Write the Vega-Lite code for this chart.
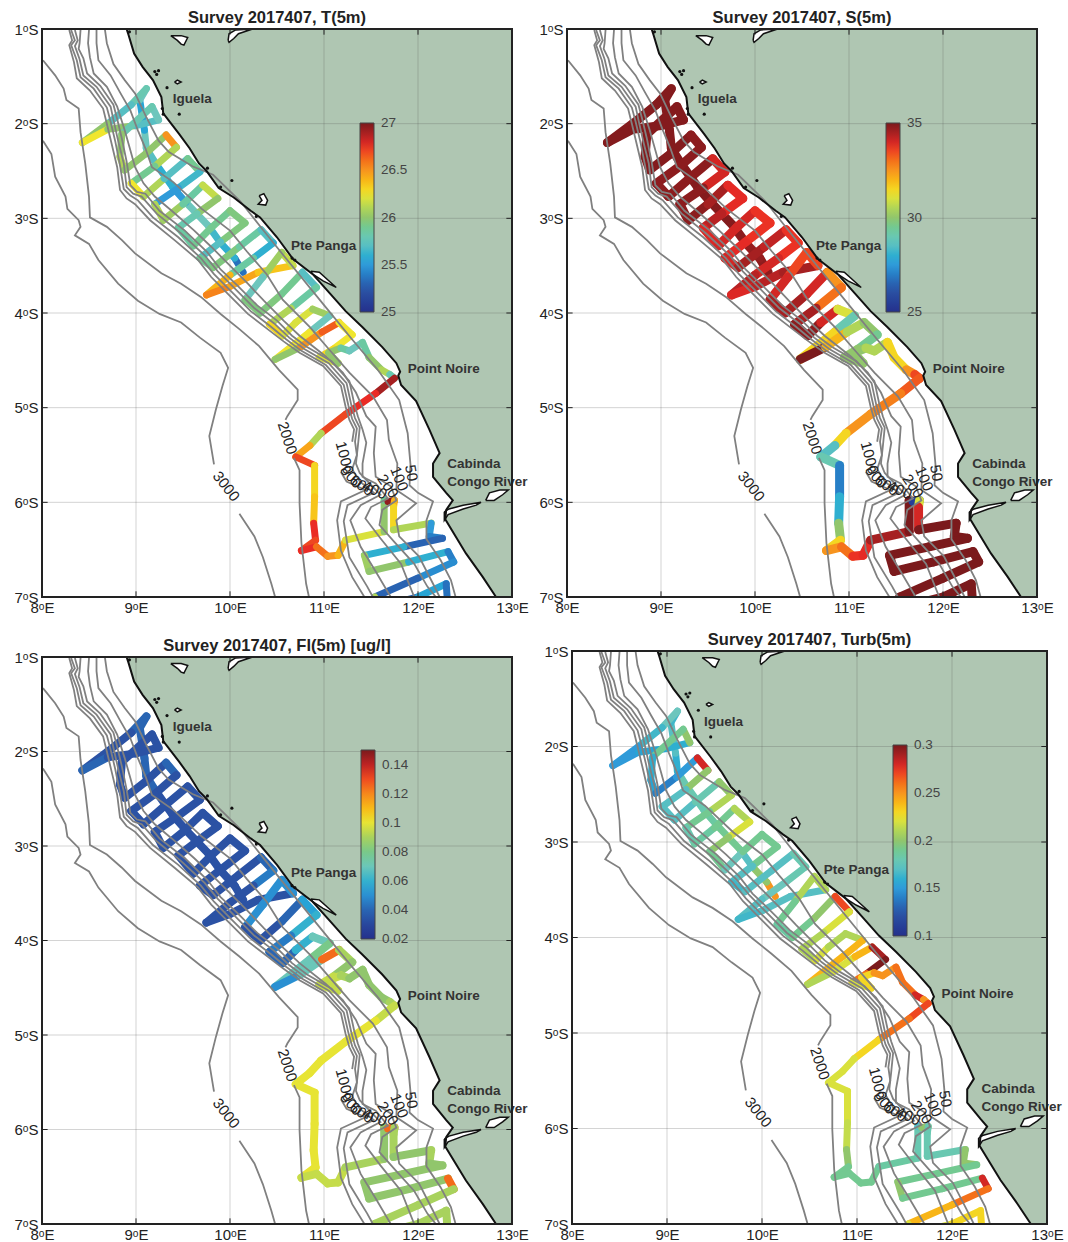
{"$schema":"https://vega.github.io/schema/vega-lite/v6.json","background":"white","padding":{"left":13,"top":9,"right":0,"bottom":0},"config":{"font":"Liberation Sans","title":{"fontSize":16.5,"fontWeight":"bold","color":"#222","offset":-4,"anchor":"middle"},"view":{"stroke":null},"concat":{"spacing":55}},
"datasets":{
"grid":[{"lon":9,"lat":-7,"lon2":9,"lat2":-1},{"lon":10,"lat":-7,"lon2":10,"lat2":-1},{"lon":11,"lat":-7,"lon2":11,"lat2":-1},{"lon":12,"lat":-7,"lon2":12,"lat2":-1},{"lon":8,"lat":-2,"lon2":13,"lat2":-2},{"lon":8,"lat":-3,"lon2":13,"lat2":-3},{"lon":8,"lat":-4,"lon2":13,"lat2":-4},{"lon":8,"lat":-5,"lon2":13,"lat2":-5},{"lon":8,"lat":-6,"lon2":13,"lat2":-6}],
"ticks":[{"lon":8,"lat":-2,"lon2":8.06,"lat2":-2},{"lon":8,"lat":-3,"lon2":8.06,"lat2":-3},{"lon":8,"lat":-4,"lon2":8.06,"lat2":-4},{"lon":8,"lat":-5,"lon2":8.06,"lat2":-5},{"lon":8,"lat":-6,"lon2":8.06,"lat2":-6},{"lon":12.94,"lat":-2,"lon2":13,"lat2":-2},{"lon":12.94,"lat":-3,"lon2":13,"lat2":-3},{"lon":12.94,"lat":-4,"lon2":13,"lat2":-4},{"lon":12.94,"lat":-5,"lon2":13,"lat2":-5},{"lon":12.94,"lat":-6,"lon2":13,"lat2":-6},{"lon":9,"lat":-7,"lon2":9,"lat2":-6.94},{"lon":10,"lat":-7,"lon2":10,"lat2":-6.94},{"lon":11,"lat":-7,"lon2":11,"lat2":-6.94},{"lon":12,"lat":-7,"lon2":12,"lat2":-6.94},{"lon":9,"lat":-1.06,"lon2":9,"lat2":-1},{"lon":10,"lat":-1.06,"lon2":10,"lat2":-1},{"lon":11,"lat":-1.06,"lon2":11,"lat2":-1},{"lon":12,"lat":-1.06,"lon2":12,"lat2":-1}],
"frame":[{"lon":8,"lat":-7,"lon2":13,"lat2":-1}],
"coast":[{"lon":8.9,"lat":-1,"e":13},{"lon":8.92,"lat":-1.06,"e":13},{"lon":8.98,"lat":-1.26,"e":13},{"lon":9.07,"lat":-1.4,"e":13},{"lon":9.18,"lat":-1.54,"e":13},{"lon":9.27,"lat":-1.72,"e":13},{"lon":9.29,"lat":-1.89,"e":13},{"lon":9.46,"lat":-2.11,"e":13},{"lon":9.57,"lat":-2.26,"e":13},{"lon":9.67,"lat":-2.42,"e":13},{"lon":9.75,"lat":-2.5,"e":13},{"lon":9.88,"lat":-2.68,"e":13},{"lon":10.04,"lat":-2.78,"e":13},{"lon":10.22,"lat":-2.92,"e":13},{"lon":10.32,"lat":-2.99,"e":13},{"lon":10.5,"lat":-3.2,"e":13},{"lon":10.67,"lat":-3.43,"e":13},{"lon":10.88,"lat":-3.59,"e":13},{"lon":11.06,"lat":-3.79,"e":13},{"lon":11.23,"lat":-3.98,"e":13},{"lon":11.41,"lat":-4.15,"e":13},{"lon":11.62,"lat":-4.36,"e":13},{"lon":11.77,"lat":-4.53,"e":13},{"lon":11.81,"lat":-4.62,"e":13},{"lon":11.79,"lat":-4.66,"e":13},{"lon":11.82,"lat":-4.76,"e":13},{"lon":11.98,"lat":-4.93,"e":13},{"lon":12.12,"lat":-5.23,"e":13},{"lon":12.23,"lat":-5.48,"e":13},{"lon":12.16,"lat":-5.59,"e":13},{"lon":12.16,"lat":-5.73,"e":13},{"lon":12.3,"lat":-5.9,"e":13},{"lon":12.37,"lat":-5.98,"e":13},{"lon":12.3,"lat":-6.08,"e":13},{"lon":12.29,"lat":-6.18,"e":13},{"lon":12.51,"lat":-6.54,"e":13},{"lon":12.69,"lat":-6.79,"e":13},{"lon":12.83,"lat":-7,"e":13}],
"lakes":[{"id":"a","lon":9.37,"lat":-1.07},{"id":"a","lon":9.48,"lat":-1.07},{"id":"a","lon":9.55,"lat":-1.09},{"id":"a","lon":9.51,"lat":-1.17},{"id":"a","lon":9.48,"lat":-1.16},{"id":"a","lon":9.44,"lat":-1.12},{"id":"a","lon":9.37,"lat":-1.07},
{"id":"b","lon":9.98,"lat":-1.12},{"id":"b","lon":9.99,"lat":-1.05},{"id":"b","lon":10.06,"lat":-1.01},{"id":"b","lon":10.24,"lat":-1},{"id":"b","lon":10.09,"lat":-1.05},{"id":"b","lon":10.04,"lat":-1.1},{"id":"b","lon":9.99,"lat":-1.14},{"id":"b","lon":9.98,"lat":-1.12},
{"id":"c","lon":9.41,"lat":-1.56},{"id":"c","lon":9.44,"lat":-1.54},{"id":"c","lon":9.48,"lat":-1.56},{"id":"c","lon":9.44,"lat":-1.58},{"id":"c","lon":9.41,"lat":-1.56},
{"id":"d","lon":10.31,"lat":-2.76},{"id":"d","lon":10.36,"lat":-2.74},{"id":"d","lon":10.4,"lat":-2.81},{"id":"d","lon":10.38,"lat":-2.86},{"id":"d","lon":10.3,"lat":-2.85},{"id":"d","lon":10.34,"lat":-2.81},{"id":"d","lon":10.31,"lat":-2.76},
{"id":"e","lon":10.86,"lat":-3.56},{"id":"e","lon":10.95,"lat":-3.57},{"id":"e","lon":11.13,"lat":-3.73},{"id":"e","lon":10.99,"lat":-3.66},{"id":"e","lon":10.88,"lat":-3.59},{"id":"e","lon":10.86,"lat":-3.56},
{"id":"f","lon":12.28,"lat":-6.1},{"id":"f","lon":12.33,"lat":-6.07},{"id":"f","lon":12.48,"lat":-6.03},{"id":"f","lon":12.67,"lat":-6},{"id":"f","lon":12.62,"lat":-6.03},{"id":"f","lon":12.48,"lat":-6.07},{"id":"f","lon":12.32,"lat":-6.13},{"id":"f","lon":12.28,"lat":-6.19},{"id":"f","lon":12.28,"lat":-6.1},
{"id":"g","lon":12.72,"lat":-5.98},{"id":"g","lon":12.76,"lat":-5.9},{"id":"g","lon":12.87,"lat":-5.87},{"id":"g","lon":12.96,"lat":-5.87},{"id":"g","lon":12.9,"lat":-5.92},{"id":"g","lon":12.81,"lat":-5.98},{"id":"g","lon":12.72,"lat":-5.98}],
"specks":[{"lon":9.2,"lat":-1.45},{"lon":9.22,"lat":-1.48},{"lon":9.24,"lat":-1.44},{"lon":9.33,"lat":-1.62},{"lon":9.46,"lat":-1.9},{"lon":9.28,"lat":-1.84},{"lon":9.29,"lat":-1.9},{"lon":9.76,"lat":-2.47},{"lon":9.9,"lat":-2.67},{"lon":10.02,"lat":-2.6},{"lon":10.66,"lat":-3.42},{"lon":10.69,"lat":-3.44},{"lon":10.28,"lat":-2.98},{"lon":8.93,"lat":-1.03}],
"iso":[
{"id":"3000a","lon":8.01,"lat":-2.18},{"id":"3000a","lon":8.1,"lat":-2.32},{"id":"3000a","lon":8.14,"lat":-2.56},{"id":"3000a","lon":8.25,"lat":-2.77},{"id":"3000a","lon":8.27,"lat":-2.9},{"id":"3000a","lon":8.39,"lat":-3.02},{"id":"3000a","lon":8.41,"lat":-3.09},{"id":"3000a","lon":8.35,"lat":-3.18},{"id":"3000a","lon":8.5,"lat":-3.27},{"id":"3000a","lon":8.6,"lat":-3.44},{"id":"3000a","lon":8.81,"lat":-3.69},{"id":"3000a","lon":9.02,"lat":-3.87},{"id":"3000a","lon":9.25,"lat":-4.01},{"id":"3000a","lon":9.48,"lat":-4.1},{"id":"3000a","lon":9.68,"lat":-4.26},{"id":"3000a","lon":9.9,"lat":-4.42},{"id":"3000a","lon":9.98,"lat":-4.58},{"id":"3000a","lon":9.92,"lat":-4.77},{"id":"3000a","lon":9.85,"lat":-5.02},{"id":"3000a","lon":9.78,"lat":-5.3},{"id":"3000a","lon":9.83,"lat":-5.6},
{"id":"3000b","lon":10.1,"lat":-6.12},{"id":"3000b","lon":10.26,"lat":-6.36},{"id":"3000b","lon":10.35,"lat":-6.58},{"id":"3000b","lon":10.44,"lat":-6.86},{"id":"3000b","lon":10.48,"lat":-7},
{"id":"2000a","lon":8.01,"lat":-1.33},{"id":"2000a","lon":8.14,"lat":-1.49},{"id":"2000a","lon":8.23,"lat":-1.63},{"id":"2000a","lon":8.26,"lat":-1.75},{"id":"2000a","lon":8.39,"lat":-1.84},{"id":"2000a","lon":8.41,"lat":-2.09},{"id":"2000a","lon":8.46,"lat":-2.42},{"id":"2000a","lon":8.5,"lat":-2.77},{"id":"2000a","lon":8.51,"lat":-2.99},{"id":"2000a","lon":8.69,"lat":-3.09},{"id":"2000a","lon":8.85,"lat":-3.23},{"id":"2000a","lon":8.99,"lat":-3.37},{"id":"2000a","lon":9.27,"lat":-3.58},{"id":"2000a","lon":9.48,"lat":-3.69},{"id":"2000a","lon":9.69,"lat":-3.83},{"id":"2000a","lon":9.9,"lat":-4.01},{"id":"2000a","lon":10.1,"lat":-4.17},{"id":"2000a","lon":10.31,"lat":-4.35},{"id":"2000a","lon":10.52,"lat":-4.6},{"id":"2000a","lon":10.72,"lat":-4.81},{"id":"2000a","lon":10.72,"lat":-4.92},{"id":"2000a","lon":10.61,"lat":-5.09},{"id":"2000a","lon":10.59,"lat":-5.13},
{"id":"2000b","lon":10.68,"lat":-5.53},{"id":"2000b","lon":10.74,"lat":-5.66},{"id":"2000b","lon":10.74,"lat":-6.01},{"id":"2000b","lon":10.76,"lat":-6.43},{"id":"2000b","lon":10.81,"lat":-6.86},{"id":"2000b","lon":10.84,"lat":-7},
{"id":"1000a","lon":8.29,"lat":-1.01},{"id":"1000a","lon":8.32,"lat":-1.12},{"id":"1000a","lon":8.29,"lat":-1.17},{"id":"1000a","lon":8.34,"lat":-1.35},{"id":"1000a","lon":8.37,"lat":-1.52},{"id":"1000a","lon":8.51,"lat":-1.65},{"id":"1000a","lon":8.65,"lat":-1.84},{"id":"1000a","lon":8.69,"lat":-2},{"id":"1000a","lon":8.74,"lat":-2.21},{"id":"1000a","lon":8.8,"lat":-2.46},{"id":"1000a","lon":8.83,"lat":-2.7},{"id":"1000a","lon":8.9,"lat":-2.79},{"id":"1000a","lon":8.99,"lat":-2.85},{"id":"1000a","lon":9.15,"lat":-3.02},{"id":"1000a","lon":9.41,"lat":-3.23},{"id":"1000a","lon":9.66,"lat":-3.44},{"id":"1000a","lon":9.8,"lat":-3.62},{"id":"1000a","lon":9.98,"lat":-3.8},{"id":"1000a","lon":10.19,"lat":-4.01},{"id":"1000a","lon":10.4,"lat":-4.17},{"id":"1000a","lon":10.57,"lat":-4.3},{"id":"1000a","lon":10.74,"lat":-4.42},{"id":"1000a","lon":10.99,"lat":-4.56},{"id":"1000a","lon":11.18,"lat":-4.77},{"id":"1000a","lon":11.23,"lat":-4.99},{"id":"1000a","lon":11.27,"lat":-5.13},{"id":"1000a","lon":11.32,"lat":-5.23},{"id":"1000a","lon":11.3,"lat":-5.36},
{"id":"1000b","lon":11.18,"lat":-5.68},{"id":"1000b","lon":11.24,"lat":-5.78},{"id":"1000b","lon":11.44,"lat":-5.87},{"id":"1000b","lon":11.18,"lat":-5.99},{"id":"1000b","lon":11.14,"lat":-6.19},{"id":"1000b","lon":11.18,"lat":-6.51},{"id":"1000b","lon":11.3,"lat":-6.79},{"id":"1000b","lon":11.43,"lat":-7},
{"id":"800","lon":8.31,"lat":-1.01},{"id":"800","lon":8.35,"lat":-1.12},{"id":"800","lon":8.31,"lat":-1.17},{"id":"800","lon":8.37,"lat":-1.33},{"id":"800","lon":8.41,"lat":-1.51},{"id":"800","lon":8.55,"lat":-1.63},{"id":"800","lon":8.69,"lat":-1.83},{"id":"800","lon":8.73,"lat":-1.98},{"id":"800","lon":8.78,"lat":-2.19},{"id":"800","lon":8.83,"lat":-2.44},{"id":"800","lon":8.87,"lat":-2.69},{"id":"800","lon":8.94,"lat":-2.76},{"id":"800","lon":9.02,"lat":-2.81},{"id":"800","lon":9.18,"lat":-2.99},{"id":"800","lon":9.45,"lat":-3.2},{"id":"800","lon":9.69,"lat":-3.42},{"id":"800","lon":9.83,"lat":-3.59},{"id":"800","lon":10.01,"lat":-3.77},{"id":"800","lon":10.22,"lat":-3.98},{"id":"800","lon":10.43,"lat":-4.14},{"id":"800","lon":10.6,"lat":-4.28},{"id":"800","lon":10.76,"lat":-4.4},{"id":"800","lon":11.02,"lat":-4.55},{"id":"800","lon":11.21,"lat":-4.76},{"id":"800","lon":11.26,"lat":-4.98},{"id":"800","lon":11.3,"lat":-5.12},{"id":"800","lon":11.35,"lat":-5.22},{"id":"800","lon":11.33,"lat":-5.36},{"id":"800","lon":11.35,"lat":-5.5},{"id":"800","lon":11.3,"lat":-5.65},{"id":"800","lon":11.38,"lat":-5.78},{"id":"800","lon":11.53,"lat":-5.9},{"id":"800","lon":11.25,"lat":-6.03},{"id":"800","lon":11.21,"lat":-6.2},{"id":"800","lon":11.27,"lat":-6.58},{"id":"800","lon":11.46,"lat":-6.89},{"id":"800","lon":11.52,"lat":-7},
{"id":"600","lon":8.35,"lat":-1.01},{"id":"600","lon":8.38,"lat":-1.12},{"id":"600","lon":8.35,"lat":-1.18},{"id":"600","lon":8.4,"lat":-1.32},{"id":"600","lon":8.44,"lat":-1.49},{"id":"600","lon":8.58,"lat":-1.61},{"id":"600","lon":8.73,"lat":-1.82},{"id":"600","lon":8.76,"lat":-1.96},{"id":"600","lon":8.81,"lat":-2.18},{"id":"600","lon":8.87,"lat":-2.42},{"id":"600","lon":8.9,"lat":-2.67},{"id":"600","lon":8.97,"lat":-2.74},{"id":"600","lon":9.06,"lat":-2.77},{"id":"600","lon":9.22,"lat":-2.95},{"id":"600","lon":9.48,"lat":-3.16},{"id":"600","lon":9.73,"lat":-3.39},{"id":"600","lon":9.87,"lat":-3.56},{"id":"600","lon":10.05,"lat":-3.74},{"id":"600","lon":10.26,"lat":-3.95},{"id":"600","lon":10.47,"lat":-4.11},{"id":"600","lon":10.63,"lat":-4.26},{"id":"600","lon":10.79,"lat":-4.38},{"id":"600","lon":11.05,"lat":-4.53},{"id":"600","lon":11.24,"lat":-4.74},{"id":"600","lon":11.29,"lat":-4.97},{"id":"600","lon":11.33,"lat":-5.11},{"id":"600","lon":11.38,"lat":-5.21},{"id":"600","lon":11.36,"lat":-5.41},{"id":"600","lon":11.34,"lat":-5.59},{"id":"600","lon":11.38,"lat":-5.69},{"id":"600","lon":11.6,"lat":-5.92},{"id":"600","lon":11.39,"lat":-6.03},{"id":"600","lon":11.28,"lat":-6.19},{"id":"600","lon":11.39,"lat":-6.47},{"id":"600","lon":11.55,"lat":-6.73},{"id":"600","lon":11.71,"lat":-7},
{"id":"400","lon":8.41,"lat":-1.01},{"id":"400","lon":8.4,"lat":-1.15},{"id":"400","lon":8.39,"lat":-1.21},{"id":"400","lon":8.44,"lat":-1.31},{"id":"400","lon":8.48,"lat":-1.47},{"id":"400","lon":8.62,"lat":-1.6},{"id":"400","lon":8.76,"lat":-1.8},{"id":"400","lon":8.8,"lat":-1.95},{"id":"400","lon":8.85,"lat":-2.16},{"id":"400","lon":8.9,"lat":-2.4},{"id":"400","lon":8.94,"lat":-2.65},{"id":"400","lon":9.01,"lat":-2.72},{"id":"400","lon":9.1,"lat":-2.74},{"id":"400","lon":9.25,"lat":-2.92},{"id":"400","lon":9.52,"lat":-3.13},{"id":"400","lon":9.76,"lat":-3.36},{"id":"400","lon":9.9,"lat":-3.54},{"id":"400","lon":10.08,"lat":-3.71},{"id":"400","lon":10.29,"lat":-3.92},{"id":"400","lon":10.5,"lat":-4.08},{"id":"400","lon":10.66,"lat":-4.24},{"id":"400","lon":10.82,"lat":-4.36},{"id":"400","lon":11.08,"lat":-4.51},{"id":"400","lon":11.27,"lat":-4.72},{"id":"400","lon":11.32,"lat":-4.95},{"id":"400","lon":11.36,"lat":-5.09},{"id":"400","lon":11.41,"lat":-5.23},{"id":"400","lon":11.45,"lat":-5.37},{"id":"400","lon":11.41,"lat":-5.59},{"id":"400","lon":11.41,"lat":-5.73},{"id":"400","lon":11.55,"lat":-5.8},{"id":"400","lon":11.68,"lat":-5.96},{"id":"400","lon":11.5,"lat":-6.05},{"id":"400","lon":11.44,"lat":-6.17},{"id":"400","lon":11.6,"lat":-6.38},{"id":"400","lon":11.82,"lat":-6.65},{"id":"400","lon":11.96,"lat":-7},
{"id":"200","lon":8.5,"lat":-1.01},{"id":"200","lon":8.49,"lat":-1.15},{"id":"200","lon":8.51,"lat":-1.3},{"id":"200","lon":8.55,"lat":-1.47},{"id":"200","lon":8.69,"lat":-1.61},{"id":"200","lon":8.8,"lat":-1.82},{"id":"200","lon":8.88,"lat":-2.07},{"id":"200","lon":8.94,"lat":-2.28},{"id":"200","lon":8.99,"lat":-2.46},{"id":"200","lon":9.08,"lat":-2.63},{"id":"200","lon":9.2,"lat":-2.77},{"id":"200","lon":9.38,"lat":-2.92},{"id":"200","lon":9.62,"lat":-3.13},{"id":"200","lon":9.8,"lat":-3.3},{"id":"200","lon":10.01,"lat":-3.51},{"id":"200","lon":10.19,"lat":-3.69},{"id":"200","lon":10.36,"lat":-3.87},{"id":"200","lon":10.57,"lat":-4.08},{"id":"200","lon":10.74,"lat":-4.24},{"id":"200","lon":11.02,"lat":-4.46},{"id":"200","lon":11.2,"lat":-4.63},{"id":"200","lon":11.34,"lat":-4.84},{"id":"200","lon":11.45,"lat":-5.09},{"id":"200","lon":11.55,"lat":-5.2},{"id":"200","lon":11.53,"lat":-5.48},{"id":"200","lon":11.55,"lat":-5.73},{"id":"200","lon":11.71,"lat":-5.83},{"id":"200","lon":11.77,"lat":-5.98},{"id":"200","lon":11.62,"lat":-6.08},{"id":"200","lon":11.59,"lat":-6.24},{"id":"200","lon":11.75,"lat":-6.42},{"id":"200","lon":11.96,"lat":-6.65},{"id":"200","lon":12.1,"lat":-6.89},{"id":"200","lon":12.19,"lat":-7},
{"id":"100","lon":8.58,"lat":-1.01},{"id":"100","lon":8.58,"lat":-1.15},{"id":"100","lon":8.6,"lat":-1.33},{"id":"100","lon":8.73,"lat":-1.49},{"id":"100","lon":8.83,"lat":-1.67},{"id":"100","lon":8.94,"lat":-1.86},{"id":"100","lon":9.02,"lat":-2.07},{"id":"100","lon":9.1,"lat":-2.26},{"id":"100","lon":9.17,"lat":-2.46},{"id":"100","lon":9.4,"lat":-2.62},{"id":"100","lon":9.7,"lat":-2.9},{"id":"100","lon":10,"lat":-3.13},{"id":"100","lon":10.18,"lat":-3.35},{"id":"100","lon":10.39,"lat":-3.59},{"id":"100","lon":10.56,"lat":-3.86},{"id":"100","lon":10.85,"lat":-4.15},{"id":"100","lon":11.05,"lat":-4.38},{"id":"100","lon":11.27,"lat":-4.63},{"id":"100","lon":11.52,"lat":-4.88},{"id":"100","lon":11.67,"lat":-5.13},{"id":"100","lon":11.69,"lat":-5.34},{"id":"100","lon":11.78,"lat":-5.59},{"id":"100","lon":11.77,"lat":-5.87},{"id":"100","lon":11.98,"lat":-6.01},{"id":"100","lon":11.77,"lat":-6.19},{"id":"100","lon":11.8,"lat":-6.36},{"id":"100","lon":12.01,"lat":-6.57},{"id":"100","lon":12.16,"lat":-6.86},{"id":"100","lon":12.23,"lat":-7},
{"id":"50","lon":8.67,"lat":-1.01},{"id":"50","lon":8.69,"lat":-1.15},{"id":"50","lon":8.76,"lat":-1.37},{"id":"50","lon":8.88,"lat":-1.54},{"id":"50","lon":8.99,"lat":-1.68},{"id":"50","lon":9.11,"lat":-1.93},{"id":"50","lon":9.24,"lat":-2.18},{"id":"50","lon":9.35,"lat":-2.3},{"id":"50","lon":9.6,"lat":-2.45},{"id":"50","lon":9.82,"lat":-2.54},{"id":"50","lon":10.11,"lat":-2.82},{"id":"50","lon":10.35,"lat":-3.12},{"id":"50","lon":10.56,"lat":-3.38},{"id":"50","lon":11.02,"lat":-3.94},{"id":"50","lon":11.3,"lat":-4.28},{"id":"50","lon":11.58,"lat":-4.61},{"id":"50","lon":11.8,"lat":-4.92},{"id":"50","lon":11.89,"lat":-5.27},{"id":"50","lon":11.92,"lat":-5.6},{"id":"50","lon":11.91,"lat":-5.82},{"id":"50","lon":12,"lat":-5.9},{"id":"50","lon":12.16,"lat":-5.99},{"id":"50","lon":12.09,"lat":-6.19},{"id":"50","lon":12.09,"lat":-6.39},{"id":"50","lon":12.24,"lat":-6.61},{"id":"50","lon":12.35,"lat":-6.82},{"id":"50","lon":12.4,"lat":-7}],
"isolabels":[{"t":"3000","lon":9.96,"lat":-5.83,"a":52},{"t":"2000","lon":10.61,"lat":-5.32,"a":72},{"t":"1000","lon":11.22,"lat":-5.53,"a":75},{"t":"800","lon":11.29,"lat":-5.73,"a":48},{"t":"600","lon":11.4,"lat":-5.82,"a":35},{"t":"400","lon":11.54,"lat":-5.87,"a":25},{"t":"200","lon":11.68,"lat":-5.83,"a":55},{"t":"100","lon":11.8,"lat":-5.75,"a":68},{"t":"50","lon":11.93,"lat":-5.69,"a":80}],
"places":[{"t":"Iguela","lon":9.39,"lat":-1.74},{"t":"Pte Panga","lon":10.65,"lat":-3.29},{"t":"Point Noire","lon":11.89,"lat":-4.59},{"t":"Cabinda","lon":12.31,"lat":-5.59},{"t":"Congo River","lon":12.31,"lat":-5.78}],
"track":[
{"lon":10.14,"lat":-3.57,"T":25.35,"S":34.8,"F":0.035,"B":0.25},{"lon":10.05,"lat":-3.42,"T":25.6,"S":34.7,"F":0.035,"B":0.2},{"lon":9.9,"lat":-3.26,"T":25.65,"S":34.8,"F":0.035,"B":0.17},{"lon":9.77,"lat":-3.08,"T":25.75,"S":34.9,"F":0.035,"B":0.19},{"lon":9.53,"lat":-2.83,"T":25.5,"S":34.9,"F":0.035,"B":0.185},{"lon":9.39,"lat":-2.67,"T":25.6,"S":34.9,"F":0.035,"B":0.18},{"lon":9.21,"lat":-2.42,"T":25.7,"S":34.9,"F":0.04,"B":0.18},{"lon":9.11,"lat":-2.26,"T":25.75,"S":34.9,"F":0.04,"B":0.16},{"lon":9.09,"lat":-2.07,"T":25.55,"S":34.9,"F":0.04,"B":0.17},{"lon":9.04,"lat":-1.75,"T":25.75,"S":34.9,"F":0.04,"B":0.165},{"lon":9.11,"lat":-1.63,"T":25.8,"S":34.9,"F":0.04,"B":0.175},{"lon":8.95,"lat":-1.8,"T":25.7,"S":34.9,"F":0.035,"B":0.165},{"lon":8.7,"lat":-2,"T":26,"S":34.9,"F":0.035,"B":0.15},{"lon":8.43,"lat":-2.2,"T":26.25,"S":34.9,"F":0.04,"B":0.15},{"lon":8.7,"lat":-2.06,"T":26,"S":34.9,"F":0.035,"B":0.155},{"lon":9,"lat":-2.02,"T":25.7,"S":34.9,"F":0.035,"B":0.16},{"lon":9.24,"lat":-1.96,"T":25.75,"S":34.9,"F":0.035,"B":0.2},{"lon":9.17,"lat":-1.82,"T":25.8,"S":34.9,"F":0.035,"B":0.19},{"lon":8.85,"lat":-2.11,"T":26,"S":34.9,"F":0.035,"B":0.16},{"lon":8.83,"lat":-2.35,"T":26.1,"S":34.9,"F":0.035,"B":0.155},{"lon":8.88,"lat":-2.49,"T":26,"S":34.9,"F":0.035,"B":0.14},{"lon":9.1,"lat":-2.32,"T":26,"S":34.9,"F":0.035,"B":0.15},{"lon":9.32,"lat":-2.12,"T":26.5,"S":34.8,"F":0.04,"B":0.28},{"lon":9.43,"lat":-2.25,"T":26.1,"S":34.8,"F":0.035,"B":0.2},{"lon":9.2,"lat":-2.45,"T":25.9,"S":34.8,"F":0.035,"B":0.17},{"lon":8.95,"lat":-2.63,"T":26.25,"S":34.8,"F":0.035,"B":0.17},{"lon":9.08,"lat":-2.77,"T":26.1,"S":34.8,"F":0.035,"B":0.17},{"lon":9.3,"lat":-2.58,"T":25.7,"S":34.8,"F":0.035,"B":0.18},{"lon":9.55,"lat":-2.37,"T":25.9,"S":34,"F":0.035,"B":0.2},{"lon":9.68,"lat":-2.51,"T":25.65,"S":34,"F":0.035,"B":0.21},{"lon":9.45,"lat":-2.68,"T":25.5,"S":34.8,"F":0.035,"B":0.19},{"lon":9.2,"lat":-2.85,"T":26.1,"S":34.8,"F":0.035,"B":0.18},{"lon":9.29,"lat":-3.02,"T":26.05,"S":34.8,"F":0.035,"B":0.185},{"lon":9.5,"lat":-2.85,"T":25.85,"S":34.5,"F":0.035,"B":0.19},{"lon":9.71,"lat":-2.65,"T":26.15,"S":33.8,"F":0.035,"B":0.21},{"lon":9.87,"lat":-2.79,"T":26,"S":33.8,"F":0.035,"B":0.22},{"lon":9.65,"lat":-2.95,"T":25.8,"S":34.3,"F":0.035,"B":0.2},{"lon":9.45,"lat":-3.1,"T":25.85,"S":33.9,"F":0.035,"B":0.19},{"lon":9.61,"lat":-3.29,"T":25.9,"S":34,"F":0.035,"B":0.175},{"lon":9.8,"lat":-3.1,"T":25.9,"S":34,"F":0.035,"B":0.19},{"lon":10,"lat":-2.92,"T":25.95,"S":33.7,"F":0.035,"B":0.19},{"lon":10.16,"lat":-3.05,"T":25.95,"S":33.7,"F":0.035,"B":0.19},{"lon":9.9,"lat":-3.25,"T":25.7,"S":33.8,"F":0.035,"B":0.17},{"lon":9.68,"lat":-3.42,"T":25.9,"S":34,"F":0.035,"B":0.165},{"lon":9.82,"lat":-3.52,"T":25.95,"S":34.5,"F":0.035,"B":0.17},{"lon":10.1,"lat":-3.3,"T":25.85,"S":34.2,"F":0.035,"B":0.17},{"lon":10.33,"lat":-3.12,"T":25.7,"S":33.7,"F":0.04,"B":0.18},{"lon":10.46,"lat":-3.26,"T":25.6,"S":33.7,"F":0.045,"B":0.18},{"lon":10.25,"lat":-3.42,"T":25.85,"S":34,"F":0.035,"B":0.175},{"lon":10,"lat":-3.6,"T":26.4,"S":34.3,"F":0.035,"B":0.17},{"lon":9.75,"lat":-3.81,"T":26.55,"S":33.9,"F":0.035,"B":0.165},{"lon":10,"lat":-3.72,"T":26.45,"S":34.3,"F":0.035,"B":0.17},{"lon":10.3,"lat":-3.57,"T":26.35,"S":34.5,"F":0.035,"B":0.17},{"lon":10.67,"lat":-3.5,"T":26.15,"S":33.5,"F":0.05,"B":0.21},{"lon":10.55,"lat":-3.36,"T":26.05,"S":33.5,"F":0.05,"B":0.21},{"lon":10.35,"lat":-3.62,"T":25.75,"S":34,"F":0.05,"B":0.19},{"lon":10.16,"lat":-3.86,"T":25.95,"S":34.5,"F":0.035,"B":0.185},{"lon":10.32,"lat":-4,"T":25.95,"S":34.5,"F":0.035,"B":0.19},{"lon":10.55,"lat":-3.8,"T":25.9,"S":34,"F":0.04,"B":0.2},{"lon":10.77,"lat":-3.57,"T":25.7,"S":32.5,"F":0.055,"B":0.27},{"lon":10.92,"lat":-3.73,"T":25.85,"S":33,"F":0.06,"B":0.22},{"lon":10.65,"lat":-3.95,"T":26.1,"S":34.5,"F":0.045,"B":0.21},{"lon":10.42,"lat":-4.12,"T":26.3,"S":34.8,"F":0.04,"B":0.21},{"lon":10.56,"lat":-4.24,"T":26.2,"S":34.8,"F":0.04,"B":0.22},{"lon":10.7,"lat":-4.1,"T":26.2,"S":34,"F":0.06,"B":0.21},{"lon":10.88,"lat":-3.96,"T":26.05,"S":31,"F":0.07,"B":0.21},{"lon":11.06,"lat":-4.03,"T":25.75,"S":29,"F":0.08,"B":0.24},{"lon":10.85,"lat":-4.2,"T":26.25,"S":31.5,"F":0.07,"B":0.24},{"lon":10.48,"lat":-4.49,"T":26,"S":35,"F":0.05,"B":0.21},{"lon":10.75,"lat":-4.36,"T":26.5,"S":32,"F":0.07,"B":0.22},{"lon":10.98,"lat":-4.2,"T":26.65,"S":30.5,"F":0.125,"B":0.24},{"lon":11.16,"lat":-4.1,"T":26.25,"S":30,"F":0.09,"B":0.29},{"lon":11.3,"lat":-4.23,"T":26.25,"S":29.5,"F":0.085,"B":0.3},{"lon":11.1,"lat":-4.38,"T":26.3,"S":30,"F":0.095,"B":0.26},{"lon":10.95,"lat":-4.47,"T":26.2,"S":30,"F":0.095,"B":0.22},{"lon":11.15,"lat":-4.53,"T":26,"S":30,"F":0.095,"B":0.23},{"lon":11.05,"lat":-4.42,"T":26,"S":30,"F":0.095,"B":0.23},{"lon":11.18,"lat":-4.37,"T":25.85,"S":30.5,"F":0.09,"B":0.25},{"lon":11.27,"lat":-4.4,"T":25.75,"S":30.5,"F":0.085,"B":0.25},{"lon":11.41,"lat":-4.31,"T":25.85,"S":31.5,"F":0.085,"B":0.26},{"lon":11.48,"lat":-4.47,"T":26,"S":31.5,"F":0.085,"B":0.26},{"lon":11.61,"lat":-4.6,"T":26.1,"S":32.5,"F":0.085,"B":0.28},{"lon":11.7,"lat":-4.65,"T":25.8,"S":33.5,"F":0.09,"B":0.25},{"lon":11.75,"lat":-4.69,"T":26.9,"S":33.3,"F":0.095,"B":0.27},{"lon":11.55,"lat":-4.85,"T":26.75,"S":32.8,"F":0.1,"B":0.26},{"lon":11.23,"lat":-5.07,"T":26.7,"S":32.5,"F":0.1,"B":0.23},{"lon":10.97,"lat":-5.27,"T":26.1,"S":31.5,"F":0.1,"B":0.22},{"lon":10.85,"lat":-5.4,"T":26.45,"S":28.5,"F":0.1,"B":0.22},{"lon":10.7,"lat":-5.52,"T":26.7,"S":29,"F":0.1,"B":0.22},{"lon":10.9,"lat":-5.61,"T":26.3,"S":27,"F":0.1,"B":0.22},{"lon":10.9,"lat":-5.94,"T":26.35,"S":28,"F":0.1,"B":0.215},{"lon":10.89,"lat":-6.22,"T":26.75,"S":30,"F":0.1,"B":0.2},{"lon":10.91,"lat":-6.4,"T":26.7,"S":31.5,"F":0.1,"B":0.19},{"lon":10.76,"lat":-6.51,"T":26.75,"S":32.5,"F":0.095,"B":0.19},{"lon":10.92,"lat":-6.47,"T":26.6,"S":33,"F":0.095,"B":0.19},{"lon":11.04,"lat":-6.57,"T":26.5,"S":33.7,"F":0.095,"B":0.19},{"lon":11.15,"lat":-6.56,"T":26.4,"S":33.8,"F":0.095,"B":0.19},{"lon":11.23,"lat":-6.4,"T":26.2,"S":34.5,"F":0.09,"B":0.185},{"lon":11.64,"lat":-6.31,"T":26,"S":35,"F":0.085,"B":0.18},{"lon":11.64,"lat":-5.98,"T":25.9,"S":35,"F":0.085,"B":0.17},{"lon":11.68,"lat":-5.99,"T":26.95,"S":25.5,"F":0.125,"B":0.2},{"lon":11.75,"lat":-5.98,"T":26.4,"S":31,"F":0.09,"B":0.18},{"lon":11.74,"lat":-6.05,"T":26.3,"S":34,"F":0.09,"B":0.18},{"lon":11.74,"lat":-6.29,"T":26.1,"S":35,"F":0.085,"B":0.18},{"lon":12.14,"lat":-6.22,"T":25.5,"S":35,"F":0.09,"B":0.2},{"lon":12.12,"lat":-6.36,"T":25.4,"S":35,"F":0.085,"B":0.2},{"lon":12.26,"lat":-6.38,"T":25.3,"S":35,"F":0.085,"B":0.19},{"lon":11.85,"lat":-6.47,"T":25.6,"S":35,"F":0.085,"B":0.19},{"lon":11.43,"lat":-6.56,"T":26.05,"S":35,"F":0.085,"B":0.2},{"lon":11.48,"lat":-6.73,"T":26,"S":35,"F":0.085,"B":0.19},{"lon":11.9,"lat":-6.63,"T":25.6,"S":35,"F":0.085,"B":0.19},{"lon":12.32,"lat":-6.52,"T":25.4,"S":35,"F":0.125,"B":0.28},{"lon":12.38,"lat":-6.63,"T":25.45,"S":35,"F":0.09,"B":0.26},{"lon":12,"lat":-6.8,"T":25.3,"S":35,"F":0.09,"B":0.24},{"lon":11.54,"lat":-7,"T":26.1,"S":35,"F":0.09,"B":0.22},{"lon":11.6,"lat":-7.1,"T":25.3,"S":35,"F":0.09,"B":0.22},{"lon":12,"lat":-7,"T":25.55,"S":35,"F":0.09,"B":0.23},{"lon":12.3,"lat":-6.86,"T":25.35,"S":35,"F":0.09,"B":0.23},{"lon":12.31,"lat":-7,"T":25.4,"S":35,"F":0.09,"B":0.23}]},
"spacing":9,"resolve":{"scale":{"color":"independent"},"legend":{"color":"independent"}},
"hconcat":[
{"bounds":"flush","spacing":60,"resolve":{"scale":{"color":"independent"},"legend":{"color":"independent"}},"vconcat":[
{"title":"Survey 2017407, T(5m)","width":470,"height":568,
"encoding":{"x":{"field":"lon","type":"quantitative","scale":{"domain":[8,13],"nice":false},"axis":{"values":[8,9,10,11,12,13],"labelExpr":"datum.value+'ᵒE'","title":null,"grid":false,"domain":false,"ticks":false,"labelFontSize":15,"labelColor":"#222","labelPadding":3,"labelDx":5,"labelOverlap":false,"labelFlush":false}},"y":{"field":"lat","type":"quantitative","scale":{"domain":[-7,-1],"nice":false,"zero":false},"axis":{"values":[-1,-2,-3,-4,-5,-6,-7],"labelExpr":"abs(datum.value)+'ᵒS'","title":null,"grid":false,"domain":false,"ticks":false,"labelFontSize":15,"labelColor":"#222","labelPadding":4,"labelOverlap":false,"labelFlush":false}}},
"layer":[
{"data":{"name":"coast"},"mark":{"type":"area","orient":"horizontal","color":"#afc6b2"},"encoding":{"x2":{"field":"e"},"order":{"value":null}}},
{"data":{"name":"grid"},"mark":{"type":"rule","stroke":"#555","strokeOpacity":0.25,"strokeWidth":1},"encoding":{"x2":{"field":"lon2"},"y2":{"field":"lat2"}}},
{"data":{"name":"track"},"transform":[{"window":[{"op":"lead","field":"lon","as":"lon2"},{"op":"lead","field":"lat","as":"lat2"}]},{"filter":"isValid(datum.lon2)"}],"mark":{"type":"rule","strokeWidth":7,"strokeCap":"round","clip":true},"encoding":{"x2":{"field":"lon2"},"y2":{"field":"lat2"},"color":{"field":"T","type":"quantitative","scale":{"domain":[25,25.25,25.5,25.75,26,26.25,26.5,26.75,27],"range":["#25308c","#2c55a6","#2f9bd9","#6dc6bd","#91c66c","#f0e62e","#f7941e","#ea2b25","#7b1a1c"]},"legend":{"orient":"none","legendX":318,"legendY":94,"direction":"vertical","title":null,"gradientLength":189,"gradientThickness":14,"gradientStrokeColor":"#444","gradientStrokeWidth":1,"labelFontSize":13.5,"labelColor":"#444","labelOffset":7,"labelOverlap":false,"values":[25,25.5,26,26.5,27],"format":".3~f","encoding":{"labels":{"baseline":{"value":"middle"}}}}}}},
{"data":{"name":"iso"},"mark":{"type":"line","stroke":"#808080","strokeWidth":1.8,"clip":true},"encoding":{"detail":{"field":"id"},"order":{"value":null}}},
{"data":{"name":"lakes"},"mark":{"type":"line","stroke":"#111","fill":"#fff","strokeWidth":1.5},"encoding":{"detail":{"field":"id"},"order":{"value":null}}},
{"data":{"name":"coast"},"mark":{"type":"line","stroke":"#111","strokeWidth":2},"encoding":{"order":{"value":null}}},
{"data":{"name":"specks"},"mark":{"type":"point","filled":true,"color":"#111","size":10,"opacity":1}},
{"data":{"name":"isolabels"},"mark":{"type":"text","fontSize":15,"color":"#222"},"encoding":{"text":{"field":"t"},"angle":{"field":"a","type":"quantitative","scale":null}}},
{"data":{"name":"places"},"mark":{"type":"text","fontSize":13.5,"fontWeight":"bold","color":"#333","align":"left"},"encoding":{"text":{"field":"t"}}},
{"data":{"name":"ticks"},"mark":{"type":"rule","stroke":"#222","strokeWidth":1},"encoding":{"x2":{"field":"lon2"},"y2":{"field":"lat2"}}},
{"data":{"name":"frame"},"mark":{"type":"rect","fill":null,"stroke":"#222","strokeWidth":2},"encoding":{"x2":{"field":"lon2"},"y2":{"field":"lat2"}}}
]},
{"title":"Survey 2017407, Fl(5m) [ug/l]","width":470,"height":567,
"encoding":{"x":{"field":"lon","type":"quantitative","scale":{"domain":[8,13],"nice":false},"axis":{"values":[8,9,10,11,12,13],"labelExpr":"datum.value+'ᵒE'","title":null,"grid":false,"domain":false,"ticks":false,"labelFontSize":15,"labelColor":"#222","labelPadding":3,"labelDx":5,"labelOverlap":false,"labelFlush":false}},"y":{"field":"lat","type":"quantitative","scale":{"domain":[-7,-1],"nice":false,"zero":false},"axis":{"values":[-1,-2,-3,-4,-5,-6,-7],"labelExpr":"abs(datum.value)+'ᵒS'","title":null,"grid":false,"domain":false,"ticks":false,"labelFontSize":15,"labelColor":"#222","labelPadding":4,"labelOverlap":false,"labelFlush":false}}},
"layer":[
{"data":{"name":"coast"},"mark":{"type":"area","orient":"horizontal","color":"#afc6b2"},"encoding":{"x2":{"field":"e"},"order":{"value":null}}},
{"data":{"name":"grid"},"mark":{"type":"rule","stroke":"#555","strokeOpacity":0.25,"strokeWidth":1},"encoding":{"x2":{"field":"lon2"},"y2":{"field":"lat2"}}},
{"data":{"name":"track"},"transform":[{"window":[{"op":"lead","field":"lon","as":"lon2"},{"op":"lead","field":"lat","as":"lat2"}]},{"filter":"isValid(datum.lon2)"}],"mark":{"type":"rule","strokeWidth":8,"strokeCap":"round","clip":true},"encoding":{"x2":{"field":"lon2"},"y2":{"field":"lat2"},"color":{"field":"F","type":"quantitative","scale":{"domain":[0.02,0.03625,0.0525,0.06875,0.085,0.10125,0.1175,0.13375,0.15],"range":["#25308c","#2c55a6","#2f9bd9","#6dc6bd","#91c66c","#f0e62e","#f7941e","#ea2b25","#7b1a1c"]},"legend":{"orient":"none","legendX":319,"legendY":93,"direction":"vertical","title":null,"gradientLength":189,"gradientThickness":14,"gradientStrokeColor":"#444","gradientStrokeWidth":1,"labelFontSize":13.5,"labelColor":"#444","labelOffset":7,"labelOverlap":false,"values":[0.02,0.04,0.06,0.08,0.1,0.12,0.14],"format":".3~f","encoding":{"labels":{"baseline":{"value":"middle"}}}}}}},
{"data":{"name":"iso"},"mark":{"type":"line","stroke":"#808080","strokeWidth":1.8,"clip":true},"encoding":{"detail":{"field":"id"},"order":{"value":null}}},
{"data":{"name":"lakes"},"mark":{"type":"line","stroke":"#111","fill":"#fff","strokeWidth":1.5},"encoding":{"detail":{"field":"id"},"order":{"value":null}}},
{"data":{"name":"coast"},"mark":{"type":"line","stroke":"#111","strokeWidth":2},"encoding":{"order":{"value":null}}},
{"data":{"name":"specks"},"mark":{"type":"point","filled":true,"color":"#111","size":10,"opacity":1}},
{"data":{"name":"isolabels"},"mark":{"type":"text","fontSize":15,"color":"#222"},"encoding":{"text":{"field":"t"},"angle":{"field":"a","type":"quantitative","scale":null}}},
{"data":{"name":"places"},"mark":{"type":"text","fontSize":13.5,"fontWeight":"bold","color":"#333","align":"left"},"encoding":{"text":{"field":"t"}}},
{"data":{"name":"ticks"},"mark":{"type":"rule","stroke":"#222","strokeWidth":1},"encoding":{"x2":{"field":"lon2"},"y2":{"field":"lat2"}}},
{"data":{"name":"frame"},"mark":{"type":"rect","fill":null,"stroke":"#222","strokeWidth":2},"encoding":{"x2":{"field":"lon2"},"y2":{"field":"lat2"}}}
]}
]},
{"bounds":"flush","spacing":54,"resolve":{"scale":{"color":"independent"},"legend":{"color":"independent"}},"vconcat":[
{"title":"Survey 2017407, S(5m)","width":470,"height":568,
"encoding":{"x":{"field":"lon","type":"quantitative","scale":{"domain":[8,13],"nice":false},"axis":{"values":[8,9,10,11,12,13],"labelExpr":"datum.value+'ᵒE'","title":null,"grid":false,"domain":false,"ticks":false,"labelFontSize":15,"labelColor":"#222","labelPadding":3,"labelDx":5,"labelOverlap":false,"labelFlush":false}},"y":{"field":"lat","type":"quantitative","scale":{"domain":[-7,-1],"nice":false,"zero":false},"axis":{"values":[-1,-2,-3,-4,-5,-6,-7],"labelExpr":"abs(datum.value)+'ᵒS'","title":null,"grid":false,"domain":false,"ticks":false,"labelFontSize":15,"labelColor":"#222","labelPadding":4,"labelOverlap":false,"labelFlush":false}}},
"layer":[
{"data":{"name":"coast"},"mark":{"type":"area","orient":"horizontal","color":"#afc6b2"},"encoding":{"x2":{"field":"e"},"order":{"value":null}}},
{"data":{"name":"grid"},"mark":{"type":"rule","stroke":"#555","strokeOpacity":0.25,"strokeWidth":1},"encoding":{"x2":{"field":"lon2"},"y2":{"field":"lat2"}}},
{"data":{"name":"track"},"transform":[{"window":[{"op":"lead","field":"lon","as":"lon2"},{"op":"lead","field":"lat","as":"lat2"}]},{"filter":"isValid(datum.lon2)"}],"mark":{"type":"rule","strokeWidth":9,"strokeCap":"round","clip":true},"encoding":{"x2":{"field":"lon2"},"y2":{"field":"lat2"},"color":{"field":"S","type":"quantitative","scale":{"domain":[25,26.25,27.5,28.75,30,31.25,32.5,33.75,35],"range":["#25308c","#2c55a6","#2f9bd9","#6dc6bd","#91c66c","#f0e62e","#f7941e","#ea2b25","#7b1a1c"]},"legend":{"orient":"none","legendX":319,"legendY":94,"direction":"vertical","title":null,"gradientLength":189,"gradientThickness":14,"gradientStrokeColor":"#444","gradientStrokeWidth":1,"labelFontSize":13.5,"labelColor":"#444","labelOffset":7,"labelOverlap":false,"values":[25,30,35],"format":".3~f","encoding":{"labels":{"baseline":{"value":"middle"}}}}}}},
{"data":{"name":"iso"},"mark":{"type":"line","stroke":"#808080","strokeWidth":1.8,"clip":true},"encoding":{"detail":{"field":"id"},"order":{"value":null}}},
{"data":{"name":"lakes"},"mark":{"type":"line","stroke":"#111","fill":"#fff","strokeWidth":1.5},"encoding":{"detail":{"field":"id"},"order":{"value":null}}},
{"data":{"name":"coast"},"mark":{"type":"line","stroke":"#111","strokeWidth":2},"encoding":{"order":{"value":null}}},
{"data":{"name":"specks"},"mark":{"type":"point","filled":true,"color":"#111","size":10,"opacity":1}},
{"data":{"name":"isolabels"},"mark":{"type":"text","fontSize":15,"color":"#222"},"encoding":{"text":{"field":"t"},"angle":{"field":"a","type":"quantitative","scale":null}}},
{"data":{"name":"places"},"mark":{"type":"text","fontSize":13.5,"fontWeight":"bold","color":"#333","align":"left"},"encoding":{"text":{"field":"t"}}},
{"data":{"name":"ticks"},"mark":{"type":"rule","stroke":"#222","strokeWidth":1},"encoding":{"x2":{"field":"lon2"},"y2":{"field":"lat2"}}},
{"data":{"name":"frame"},"mark":{"type":"rect","fill":null,"stroke":"#222","strokeWidth":2},"encoding":{"x2":{"field":"lon2"},"y2":{"field":"lat2"}}}
]},
{"bounds":"flush","spacing":4,"resolve":{"scale":{"color":"independent"},"legend":{"color":"independent"}},"hconcat":[
{"width":1,"height":1,"data":{"values":[{"a":1}]},"mark":{"type":"point","opacity":0},"encoding":{}},
{"title":"Survey 2017407, Turb(5m)","width":475,"height":573,
"encoding":{"x":{"field":"lon","type":"quantitative","scale":{"domain":[8,13],"nice":false},"axis":{"values":[8,9,10,11,12,13],"labelExpr":"datum.value+'ᵒE'","title":null,"grid":false,"domain":false,"ticks":false,"labelFontSize":15,"labelColor":"#222","labelPadding":3,"labelDx":5,"labelOverlap":false,"labelFlush":false}},"y":{"field":"lat","type":"quantitative","scale":{"domain":[-7,-1],"nice":false,"zero":false},"axis":{"values":[-1,-2,-3,-4,-5,-6,-7],"labelExpr":"abs(datum.value)+'ᵒS'","title":null,"grid":false,"domain":false,"ticks":false,"labelFontSize":15,"labelColor":"#222","labelPadding":4,"labelOverlap":false,"labelFlush":false}}},
"layer":[
{"data":{"name":"coast"},"mark":{"type":"area","orient":"horizontal","color":"#afc6b2"},"encoding":{"x2":{"field":"e"},"order":{"value":null}}},
{"data":{"name":"grid"},"mark":{"type":"rule","stroke":"#555","strokeOpacity":0.25,"strokeWidth":1},"encoding":{"x2":{"field":"lon2"},"y2":{"field":"lat2"}}},
{"data":{"name":"track"},"transform":[{"window":[{"op":"lead","field":"lon","as":"lon2"},{"op":"lead","field":"lat","as":"lat2"}]},{"filter":"isValid(datum.lon2)"}],"mark":{"type":"rule","strokeWidth":7,"strokeCap":"round","clip":true},"encoding":{"x2":{"field":"lon2"},"y2":{"field":"lat2"},"color":{"field":"B","type":"quantitative","scale":{"domain":[0.1,0.125,0.15,0.175,0.2,0.225,0.25,0.275,0.3],"range":["#25308c","#2c55a6","#2f9bd9","#6dc6bd","#91c66c","#f0e62e","#f7941e","#ea2b25","#7b1a1c"]},"legend":{"orient":"none","legendX":321,"legendY":94,"direction":"vertical","title":null,"gradientLength":191,"gradientThickness":14,"gradientStrokeColor":"#444","gradientStrokeWidth":1,"labelFontSize":13.5,"labelColor":"#444","labelOffset":7,"labelOverlap":false,"values":[0.1,0.15,0.2,0.25,0.3],"format":".3~f","encoding":{"labels":{"baseline":{"value":"middle"}}}}}}},
{"data":{"name":"iso"},"mark":{"type":"line","stroke":"#808080","strokeWidth":1.8,"clip":true},"encoding":{"detail":{"field":"id"},"order":{"value":null}}},
{"data":{"name":"lakes"},"mark":{"type":"line","stroke":"#111","fill":"#fff","strokeWidth":1.5},"encoding":{"detail":{"field":"id"},"order":{"value":null}}},
{"data":{"name":"coast"},"mark":{"type":"line","stroke":"#111","strokeWidth":2},"encoding":{"order":{"value":null}}},
{"data":{"name":"specks"},"mark":{"type":"point","filled":true,"color":"#111","size":10,"opacity":1}},
{"data":{"name":"isolabels"},"mark":{"type":"text","fontSize":15,"color":"#222"},"encoding":{"text":{"field":"t"},"angle":{"field":"a","type":"quantitative","scale":null}}},
{"data":{"name":"places"},"mark":{"type":"text","fontSize":13.5,"fontWeight":"bold","color":"#333","align":"left"},"encoding":{"text":{"field":"t"}}},
{"data":{"name":"ticks"},"mark":{"type":"rule","stroke":"#222","strokeWidth":1},"encoding":{"x2":{"field":"lon2"},"y2":{"field":"lat2"}}},
{"data":{"name":"frame"},"mark":{"type":"rect","fill":null,"stroke":"#222","strokeWidth":2},"encoding":{"x2":{"field":"lon2"},"y2":{"field":"lat2"}}}
]}
]}
]}
]}
